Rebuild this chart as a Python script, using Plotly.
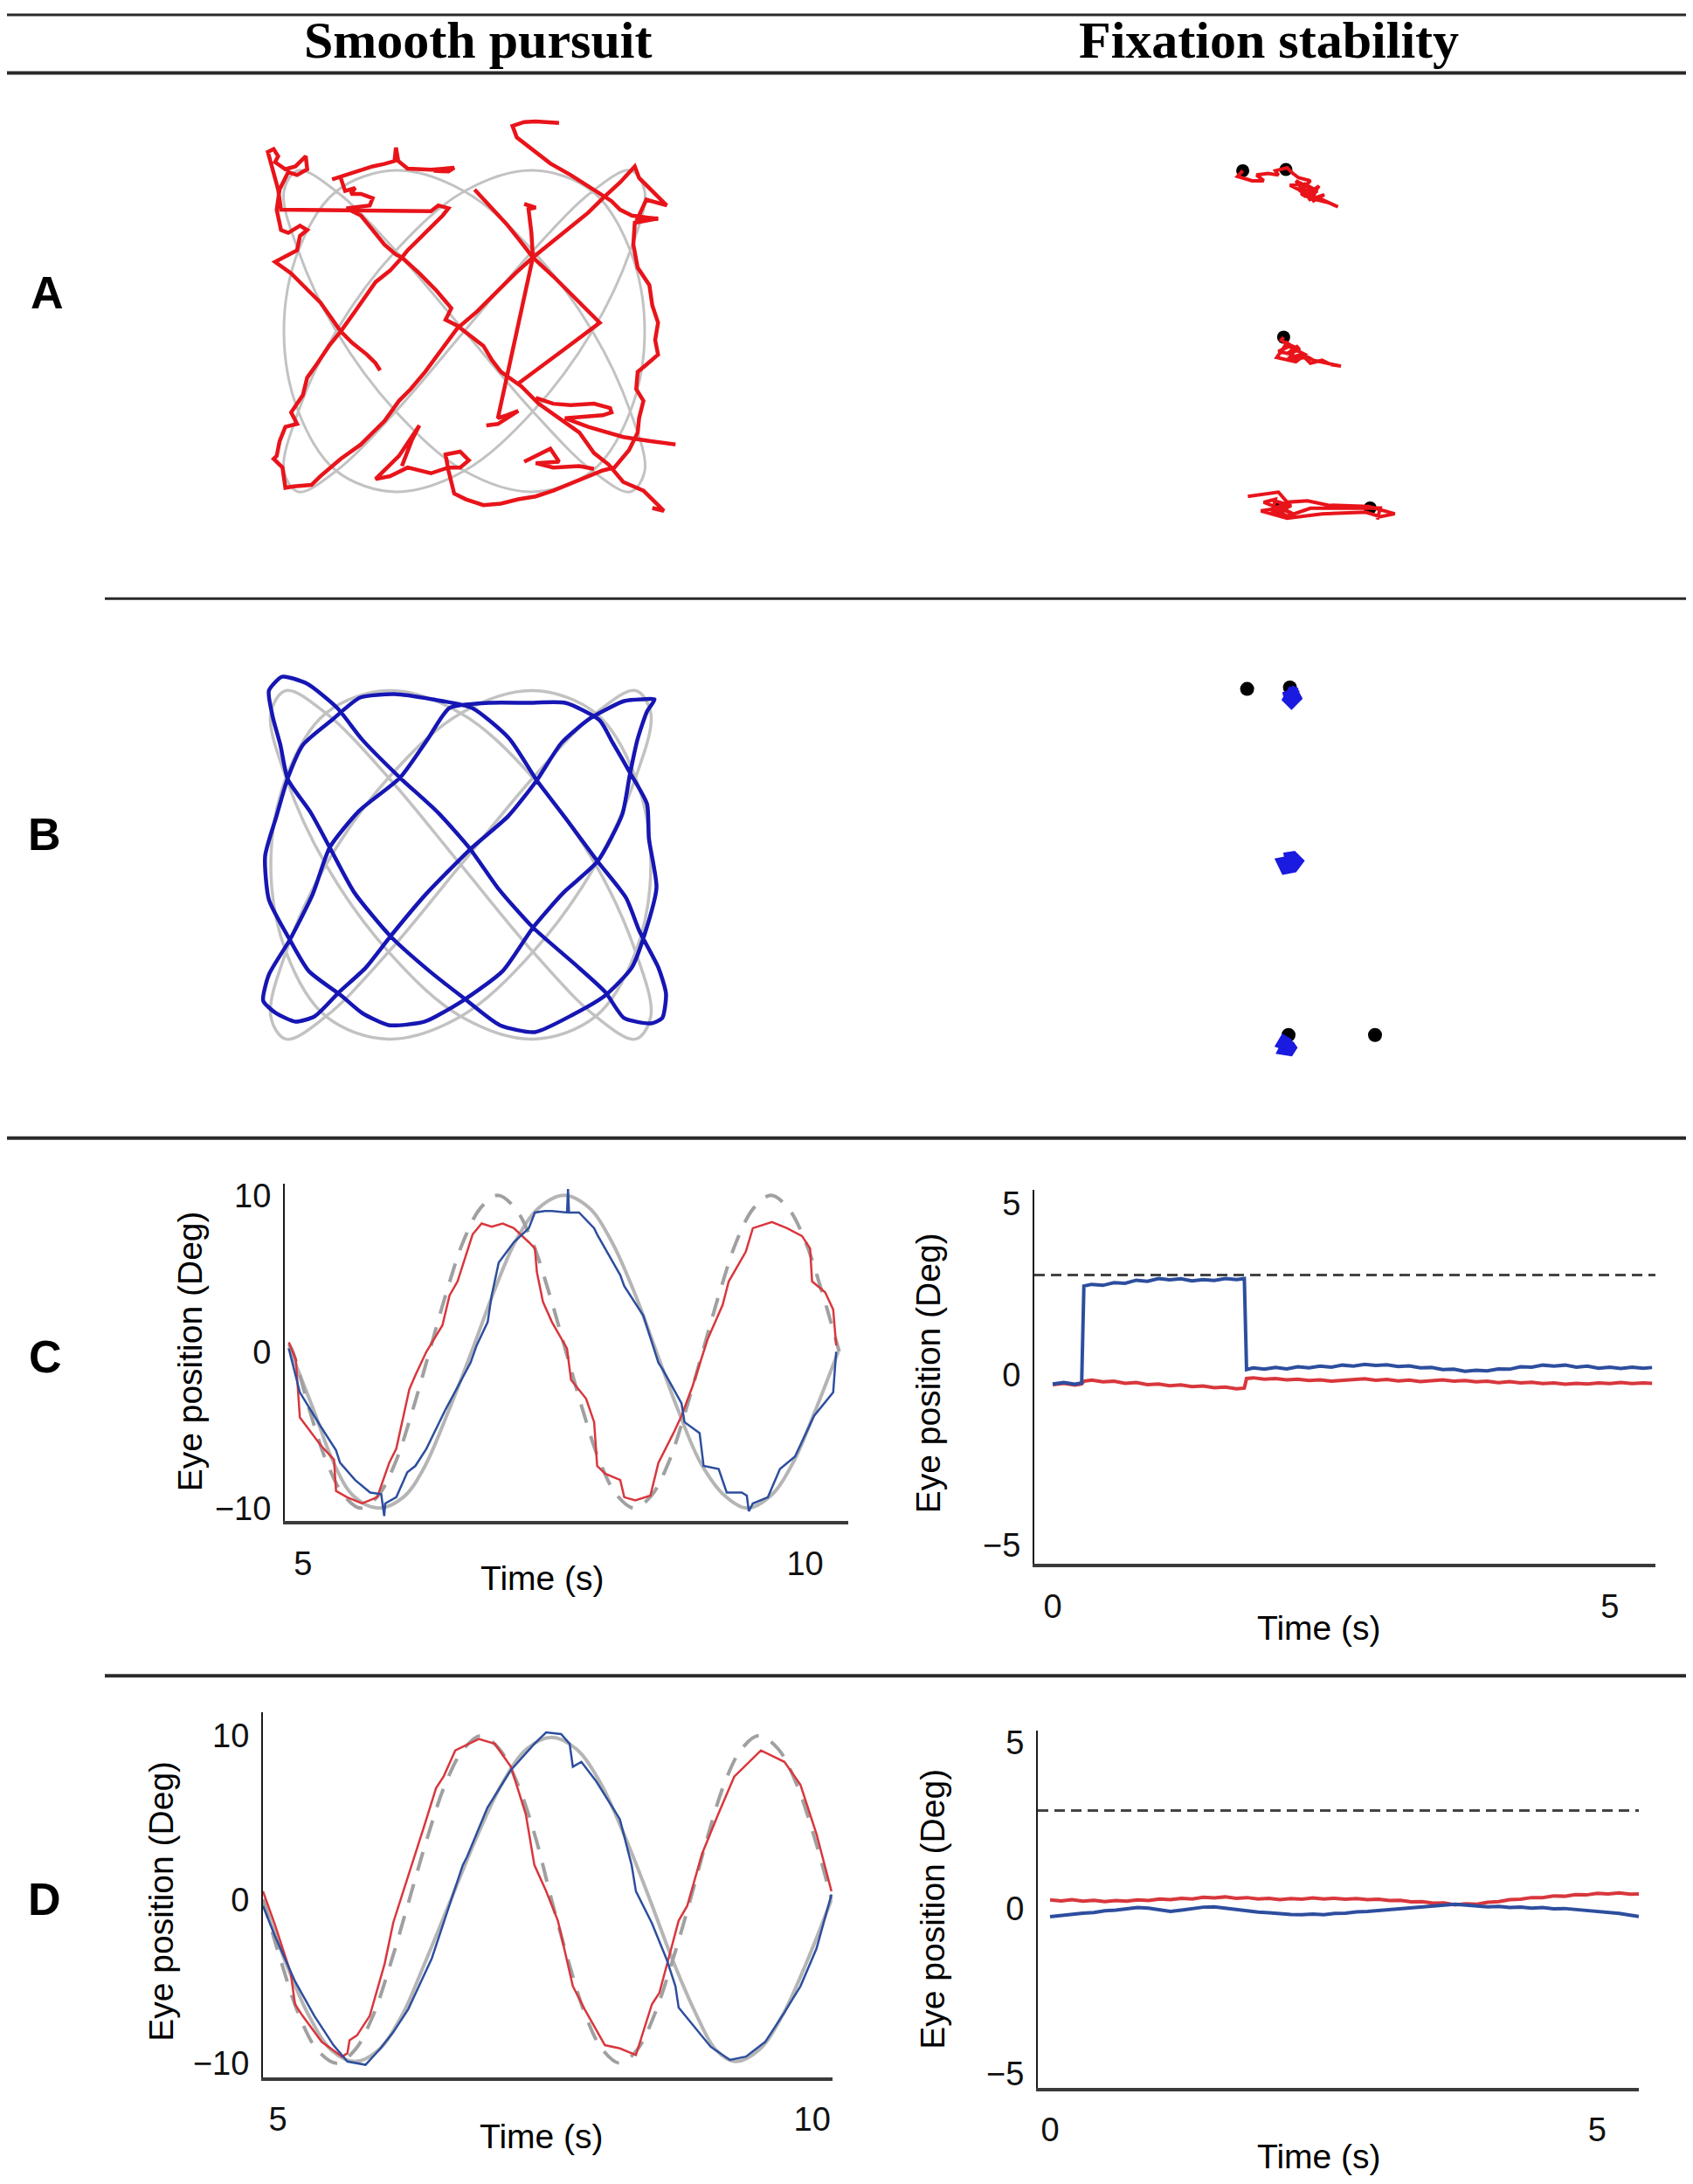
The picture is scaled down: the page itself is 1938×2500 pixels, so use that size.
import plotly.graph_objects as go

# page is 1938 x 2500; the html body keeps an 8 px margin, so the figure is a bit smaller
PAGE_W, PAGE_H = 1938, 2500
OFF = 8
W, H = PAGE_W - 2 * OFF, PAGE_H - 2 * OFF

# ---------------- data ----------------
# Lissajous target path (deg) shown in grey in panels A and B
target_x = [0, 3.8, 7.1, 9.2, 10, 9.2, 7.1, 3.8, 0, -3.8, -7.1, -9.2, -10, -9.2, -7.1, -3.8,
            0, 3.8, 7.1, 9.2, 10, 9.2, 7.1, 3.8, 0, -3.8, -7.1, -9.2, -10, -9.2, -7.1, -3.8,
            0, 3.8, 7.1, 9.2, 10, 9.2, 7.1, 3.8, 0, -3.8, -7.1, -9.2, -10, -9.2, -7.1, -3.8, 0]
target_y = [0, 5, 8.7, 10, 8.7, 5, 0, -5, -8.7, -10, -8.7, -5,
            0, 5, 8.7, 10, 8.7, 5, 0, -5, -8.7, -10, -8.7, -5,
            0, 5, 8.7, 10, 8.7, 5, 0, -5, -8.7, -10, -8.7, -5,
            0, 5, 8.7, 10, 8.7, 5, 0, -5, -8.7, -10, -8.7, -5, 0]

# A: smooth pursuit eye trace (red), None = break between pieces
red_a_x = [-4.67, -4.92, -5.40, -6.21, -6.85, -7.50, -7.98, -8.63, -9.60, -10.49,
           -9.92, -9.27, -9.11, -8.71, -9.11, -9.76, -10.16, -10.40, -10.24, -9.76,
           -9.27, -8.71, -8.79, -9.36, -9.92, -10.49, -10.32, -10.57, -10.89, -10.65,
           -10.32, -10.16, -1.85, -1.44, -0.88, -1.20, -2.17, -3.14, -3.46, -4.11,
           -4.92, -5.40, -6.05, -6.85, -7.50, -8.14, -8.71, -8.95, -9.60, -9.27,
           -9.92, -10.24, -10.40, -10.57, -10.08, -9.92, -9.44, -8.47, -7.98, -6.85,
           -5.73, -5.08, -4.43, -3.62, -2.98, -2.17, -1.20, -0.40, 0.73, 1.70,
           2.83, 3.80, 4.77, 5.58, 6.87, 7.68, 8.64, 9.45, 9.69, 11.22,
           10.09, 9.61, 10.74, 9.45, 9.37, 9.61, 10.26, 10.42, 10.74, 10.58,
           10.74, 10.09, 9.61, 9.53, 9.93, 9.69, 9.61, 9.13, 8.32, 7.68,
           6.87, 5.90, 4.93, 3.96, 2.99, 2.03, 1.06, 0.09, -0.56, -0.88,
           -1.04, -0.23, 0.25, -0.23, -0.88, -1.85, -3.14, -4.11, -4.92, -3.62,
           -2.49, -2.90, -3.46, None,
           -7.33, -6.85, -6.05, -5.08, -4.43, -3.87, -3.79, -3.66, -3.14, -1.85, -0.56, -0.88, -1.69, None,
           -6.85, -6.61, -6.05, -6.29, -5.73, -5.08, -5.24, -6.05, -6.53, -5.73,
           -5.08, -4.43, -3.79, -3.46, -2.49, -1.53, -0.72, -1.04, -0.40, 0.41,
           1.06, 1.54, 2.03, 3.16, 4.12, 5.25, 6.38, 7.19, 8.00, 8.81, 9.93, 10.74, 11.06, 10.42, None,
           0.57, 1.54, 2.35, 2.99, 3.80, 4.93, 5.90, 6.87, 7.51, 5.58, 3.96, 2.99, None,
           3.32, 3.96, 3.56, 3.72, 3.80, 2.83, 1.86, 2.35, 2.99, 1.86, 1.22, None,
           5.25, 4.61, 3.96, 3.32, 2.67, 2.91, 3.80, 4.77, 5.90, 7.19, 8.16, 8.64, 9.29, 10.74, None,
           3.96, 4.93, 5.90, 7.19, 8.08, 8.16, 7.68, 6.38, 5.58, 6.87, 8.81, 10.42, 11.71, None,
           3.32, 4.77, 5.25, 3.96, 4.93, 6.38, 7.19]
red_a_y = [-2.45, -2.00, -1.46, -0.74, -0.02, 1.06, 1.78, 2.50, 3.59, 4.31,
           4.67, 5.03, 5.93, 6.29, 6.56, 6.11, 6.29, 7.55, 8.81, 9.89,
           9.71, 10.07, 10.88, 10.25, 10.07, 10.52, 10.88, 11.33, 11.15, 10.07,
           8.81, 7.55, 7.46, 7.82, 7.64, 7.19, 6.11, 5.03, 4.58, 3.77,
           3.05, 2.32, 1.24, -0.02, -0.92, -2.00, -2.90, -3.98, -5.06, -5.78,
           -5.96, -6.86, -7.77, -7.95, -8.49, -9.75, -9.66, -9.57, -9.03, -7.95,
           -7.05, -6.32, -5.60, -4.34, -3.62, -2.54, -1.10, 0.16, 1.24, 2.32,
           3.59, 4.58, 5.48, 6.20, 7.37, 8.27, 9.26, 10.25, 9.53, 7.82,
           8.18, 7.01, 7.01, 6.74, 5.39, 3.95, 2.86, 1.60, 0.52, -0.56,
           -1.46, -2.09, -2.54, -3.62, -4.34, -5.42, -6.32, -7.41, -8.49, -8.67,
           -9.03, -9.48, -9.93, -10.29, -10.47, -10.74, -10.83, -10.47, -10.11, -8.67,
           -7.68, -7.50, -8.04, -8.49, -8.49, -8.85, -8.49, -9.03, -9.21, -7.77,
           -5.87, -6.77, -8.40, None,
           9.44, 9.62, 9.86, 10.25, 10.40, 10.58, 11.42, 10.58, 10.11, 10.04, 10.16, 9.93, 9.98, None,
           9.53, 8.72, 8.90, 8.54, 8.54, 8.27, 7.82, 7.73, 7.64, 7.19,
           6.29, 5.39, 4.76, 4.58, 3.59, 2.50, 1.42, 0.70, 0.34, -0.38,
           -0.92, -1.82, -2.54, -3.44, -4.52, -5.42, -6.32, -7.59, -8.31, -9.39, -9.93, -10.83, -11.19, -11.01, None,
           8.81, 7.64, 6.65, 5.75, 4.58, 3.41, 2.32, 1.24, 0.52, -1.10, -2.45, -3.26, None,
           7.91, 7.69, 7.59, 6.11, 4.58, -0.38, -5.42, -5.24, -4.97, -5.78, -5.87, None,
           12.95, 13.01, 13.05, 13.01, 12.77, 12.05, 11.24, 10.43, 9.71, 8.81, 8.09, 7.55, 7.19, 6.97, None,
           -4.16, -4.52, -4.61, -4.52, -4.79, -5.06, -5.24, -5.33, -5.42, -5.96, -6.59, -6.86, -7.05, None,
           -8.13, -7.32, -8.13, -8.22, -8.49, -8.40, -8.58]

# B: smooth pursuit eye trace (blue)
blue_b_x = [0.5, 2.5, 4.0, 5.3, 6.8, 8.6, 9.6, 10.2, 9.8, 9.3, 8.9, 8.5, 7.2, 5.4, 3.8, 2.2,
            0.1, -1.9, -3.8, -5.2, -6.3, -8.0, -9.0, -10.1, -10.3, -9.7, -9.1, -8.3, -6.8, -5.3, -3.5, -1.5,
            0.6, 2.55, 4.0, 5.5, 7.2, 8.7, 9.4, 10.4, 10.8, 10.6, 10.0, 8.6, 7.6, 6.0, 3.8, 2.0,
            0.5, -1.2, -3.2, -5.2, -6.5, -8.1, -9.4, -10.1, -9.9, -9.5, -9.1, -7.9, -6.9, -5.6, -3.7, -1.65,
            0.1, 2.05, 3.9, 5.9, 7.6, 9.0, 9.7, 10.3, 9.9, 9.8, 8.9, 8.0, 7.3, 5.5, 3.5, 1.5,
            -0.6, -1.75, -3.2, -5.35, -6.9, -7.8, -9.0, -10.1, -10.4, -9.75, -8.7, -7.7, -6.4, -5.0, -3.7, -1.85,
            0.5]
blue_b_y = [0.9, 2.8, 4.85, 7.0, 8.4, 9.4, 9.5, 9.5, 8.8, 7.2, 5.2, 2.9, 0.2, -1.6, -3.6, -6.1,
            -7.8, -9.0, -9.2, -8.5, -7.5, -6.1, -4.3, -2.0, 0.5, 2.8, 5.0, 6.9, 8.3, 9.6, 9.8, 9.5,
            9.0, 7.25, 4.85, 2.7, 0.2, -1.9, -3.8, -5.9, -7.4, -8.8, -9.1, -8.8, -7.3, -5.7, -3.6, -1.4,
            0.9, 3.0, 5.0, 7.2, 9.0, 10.4, 10.8, 10.0, 8.5, 6.9, 4.9, 3.0, 1.0, -1.6, -4.1, -6.1,
            -7.6, -9.2, -9.6, -8.6, -7.5, -5.9, -3.9, -1.3, 1.5, 3.5, 5.3, 7.0, 8.3, 9.3, 9.3, 9.3,
            9.0, 7.2, 5.0, 3.1, 1.0, -1.7, -4.3, -6.3, -7.8, -8.5, -9.0, -8.7, -7.3, -5.9, -4.1, -1.7,
            0.9]

# fixation targets (black) and eye position clusters
dots_a_x = [-2.37, 0.1, -0.03, -0.3, 4.92]
dots_a_y = [9.68, 9.75, 0.1, -9.75, -9.73]
fix_red_x = [-2.37, -2.67, -1.83, -1.17, -1.58, -0.92, -0.33, -0.5, 0.17, 0.5, 0.83, 1.5, 1.17, 1.0,
             1.5, 1.83, 2.5, 3.08, 2.17, 1.33, 0.83, 0.33, 1.0, 1.5, 0.67, 1.2, 1.8, 1.4, 0.9,
             1.2, 1.9, 1.1, 2.0, 1.4, 2.3, 1.6, None,
             -0.03, -0.17, 0.33, -0.33, 0.5, 0.17, 1.17, 1.5, 2.17, 2.67, 3.25, 2.5, 1.67, 0.83, 0.17,
             -0.42, 0.67, 1.2, 0.4, 0.2, 0.9, 0.1, 0.8, 0.3, 1.0, None,
             -2.08, -0.33, 0.17, 1.33, 2.5, 4.83, 6.33, 5.5, 4.67, 2.17, 0.17, -1.33, -0.17, 0.5,
             -1.17, -0.5, -0.67, 0.3, -0.6, 0.4, -0.4, 0.3, -0.7, 0.2, 1.5, 5.5, 5.33]
fix_red_y = [9.68, 9.35, 9.1, 9.1, 9.43, 9.52, 9.43, 9.68, 9.85, 9.52, 9.27, 9.1, 8.77, 8.27,
             8.43, 8.02, 7.85, 7.6, 8.02, 8.18, 8.6, 8.85, 8.93, 8.68, 9.1, 8.4, 8.3, 8.6, 8.5,
             8.9, 8.5, 8.2, 8.8, 8.0, 8.3, 7.9, None,
             0.1, -0.07, -0.4, -0.73, -0.9, -1.23, -1.07, -1.4, -1.23, -1.48, -1.57, -1.4, -1.23, -0.73, -0.23,
             -1.07, -1.32, -0.9, -0.5, -0.3, -0.6, -0.9, -0.4, -1.1, -0.9, None,
             -9.07, -8.82, -9.4, -9.32, -9.57, -9.65, -10.07, -10.23, -9.98, -10.07, -10.32, -9.9, -9.73, -10.07,
             -9.4, -9.23, -10.07, -9.6, -9.3, -9.6, -10.0, -9.4, -9.8, -10.2, -9.75, -9.73, -10.4]

dots_b_x = [-2.12, 0.33, 0.33, 0.25, 5.2]
dots_b_y = [10.0, 10.08, 0.08, -9.92, -9.92]
fix_blue_x = [0.33, 0.67, 0.0, 0.5, 0.83, 0.42, 0.25, 0.58, 0.45, None,
              0.0, 0.5, 0.75, 0.5, 0.08, -0.08, 0.33, 0.58, 0.2, None,
              0.17, -0.08, 0.33, 0.5, 0.0, 0.25]
fix_blue_y = [9.92, 9.75, 9.5, 9.58, 9.67, 9.25, 9.42, 10.0, 9.6, None,
              0.25, 0.33, 0.08, -0.25, -0.33, 0.0, 0.08, -0.08, 0.1, None,
              -10.0, -10.42, -10.58, -10.83, -10.75, -10.25]

# C left: pursuit time series (s, deg)
c_red_t = [4.86, 4.93, 4.97, 5.06, 5.18, 5.31, 5.33, 5.44, 5.59, 5.74, 5.80, 5.86, 5.93, 6.06, 6.12,
           6.23, 6.39, 6.46, 6.54, 6.69, 6.78, 6.88, 6.99, 7.10, 7.25, 7.31, 7.33, 7.39, 7.48, 7.63,
           7.67, 7.82, 7.90, 7.93, 8.01, 8.16, 8.20, 8.31, 8.46, 8.54, 8.69, 8.77, 8.88, 8.99, 9.03,
           9.18, 9.24, 9.33, 9.41, 9.48, 9.67, 9.82, 9.97, 10.05, 10.07, 10.20, 10.28, 10.31]
c_red = [0.6, -0.5, -4.2, -5.0, -6.0, -6.9, -8.9, -9.3, -9.7, -9.3, -8.2, -7.1, -6.2, -2.4, -1.5,
         0.0, 1.7, 3.6, 4.5, 7.5, 8.2, 8.0, 8.2, 7.9, 7.0, 6.6, 5.1, 3.2, 1.9, 0.2,
         -1.8, -3.0, -4.5, -7.3, -7.8, -8.2, -9.3, -9.5, -9.2, -7.1, -5.2, -4.1, -2.2, 0.0, 0.8,
         3.0, 4.5, 5.5, 6.4, 7.9, 8.3, 7.9, 7.4, 6.6, 4.5, 3.8, 2.7, 0.4]
c_blue_t = [4.86, 4.97, 5.18, 5.33, 5.37, 5.52, 5.67, 5.78, 5.81, 5.82, 5.93, 6.04, 6.12, 6.23, 6.42,
            6.58, 6.67, 6.73, 6.84, 6.88, 6.90, 6.95, 7.10, 7.25, 7.31, 7.41, 7.48, 7.63, 7.64, 7.65,
            7.75, 7.90, 7.93, 8.01, 8.16, 8.20, 8.39, 8.54, 8.58, 8.77, 8.80, 8.95, 8.99, 9.14, 9.22,
            9.37, 9.42, 9.44, 9.48, 9.63, 9.75, 9.90, 10.09, 10.28, 10.31]
c_blue = [0.2, -2.6, -4.8, -6.3, -7.1, -8.2, -9.0, -9.1, -10.5, -9.7, -9.3, -7.7, -7.3, -6.2, -3.7,
          -1.8, -0.7, 0.4, 1.9, 3.6, 4.2, 5.7, 7.0, 7.9, 8.9, 9.0, 9.0, 8.9, 10.4, 8.9,
          8.9, 7.9, 7.5, 6.6, 4.9, 4.2, 2.3, -0.7, -1.1, -3.3, -4.5, -5.2, -7.3, -7.5, -9.0,
          -9.0, -9.2, -10.2, -9.7, -9.3, -7.5, -6.7, -4.1, -2.6, 0.0]
c_tgt_dash_t = [4.86, 4.90, 5.07, 5.24, 5.41, 5.58, 5.75, 5.92, 6.09, 6.26, 6.43, 6.60, 6.77, 6.94,
                7.11, 7.28, 7.45, 7.62, 7.79, 7.96, 8.13, 8.30, 8.47, 8.64, 8.81, 8.98, 9.15, 9.32,
                9.49, 9.66, 9.83, 10.00, 10.17, 10.34]
c_tgt_dash = [0.5, 0, -3.8, -7.1, -9.2, -10, -9.2, -7.1, -3.8, 0, 3.8, 7.1, 9.2, 10,
              9.2, 7.1, 3.8, 0, -3.8, -7.1, -9.2, -10, -9.2, -7.1, -3.8, 0, 3.8, 7.1,
              9.2, 10, 9.2, 7.1, 3.8, 0]
c_tgt_solid_t = [4.86, 5.10, 5.30, 5.50, 5.75, 6.00, 6.20, 6.45, 6.68, 6.90, 7.12, 7.35, 7.60,
                 7.85, 8.07, 8.30, 8.52, 8.74, 8.96, 9.20, 9.42, 9.66, 9.88, 10.10, 10.33]
c_tgt_solid = [0.3, -3.6, -7.0, -9.2, -10, -9.3, -7.5, -3.8, 0, 3.8, 7.1, 9.2, 10,
               9.2, 7.1, 3.8, 0, -3.8, -7.1, -9.2, -10, -9.2, -7.1, -3.8, 0]

# C right: fixation time series
cf_t = [0, 0.1, 0.2, 0.26, 0.28, 0.35, 0.45, 0.55, 0.65, 0.75, 0.85, 0.95, 1.05, 1.15, 1.25, 1.35,
        1.45, 1.55, 1.65, 1.72, 1.74, 1.8, 1.9, 2.0, 2.1, 2.2, 2.3, 2.4, 2.5, 2.6, 2.7, 2.8, 2.9,
        3.0, 3.1, 3.2, 3.3, 3.4, 3.5, 3.6, 3.7, 3.8, 3.9, 4.0, 4.1, 4.2, 4.3, 4.4, 4.5, 4.6, 4.7,
        4.8, 4.9, 5.0, 5.1, 5.2, 5.3, 5.38]
cf_blue = [-0.28, -0.24, -0.29, -0.25, 2.58, 2.63, 2.6, 2.68, 2.66, 2.75, 2.72, 2.8, 2.76, 2.79,
           2.73, 2.77, 2.74, 2.8, 2.77, 2.8, 0.14, 0.19,
           0.15, 0.2, 0.16, 0.22, 0.19, 0.24, 0.21, 0.27, 0.24, 0.29, 0.26, 0.28, 0.23, 0.25, 0.19,
           0.2, 0.14, 0.15, 0.09, 0.12, 0.1, 0.16, 0.15, 0.22, 0.21, 0.27, 0.24, 0.27, 0.21, 0.24,
           0.18, 0.21, 0.17, 0.21, 0.18, 0.2]
cf_red = [-0.3, -0.26, -0.31, -0.28, -0.2, -0.17, -0.22, -0.2, -0.26, -0.24, -0.3, -0.28, -0.33,
          -0.31, -0.36, -0.34, -0.39, -0.37, -0.42, -0.4, -0.12, -0.1,
          -0.14, -0.12, -0.16, -0.14, -0.18, -0.16, -0.2, -0.17, -0.15, -0.13, -0.17, -0.15, -0.19,
          -0.17, -0.21, -0.18, -0.16, -0.2, -0.18, -0.22, -0.2, -0.24, -0.21, -0.25, -0.23, -0.27,
          -0.25, -0.29, -0.26, -0.28, -0.25, -0.27, -0.24, -0.27, -0.25, -0.26]
cf_target = 2.9

# D left: pursuit time series
d_red_t = [4.86, 4.97, 5.12, 5.16, 5.23, 5.41, 5.60, 5.65, 5.67, 5.74, 5.86, 6.00, 6.08, 6.22, 6.37,
           6.48, 6.55, 6.66, 6.88, 7.03, 7.18, 7.32, 7.40, 7.51, 7.62, 7.76, 7.87, 8.06, 8.20, 8.35,
           8.50, 8.57, 8.75, 8.83, 8.97, 9.12, 9.27, 9.52, 9.74, 9.89, 10.04, 10.18]
d_red = [0.5, -1.5, -4.5, -6.4, -7.1, -8.7, -9.6, -9.4, -8.6, -8.3, -7.1, -3.9, -1.4, 1.4, 4.5,
         6.8, 7.5, 9.1, 9.8, 9.5, 8.1, 5.2, 2.1, 0.5, -1.3, -5.3, -6.7, -8.9, -9.1, -9.5,
         -6.4, -5.7, -1.3, -0.4, 2.8, 5.2, 7.5, 9.1, 8.4, 7.0, 4.0, 0.5]
d_blue_t = [4.86, 4.97, 5.16, 5.34, 5.52, 5.65, 5.82, 5.96, 6.08, 6.22, 6.44, 6.59, 6.73, 6.77, 6.96,
            7.18, 7.40, 7.51, 7.65, 7.73, 7.76, 7.84, 7.98, 8.20, 8.31, 8.35, 8.50, 8.64, 8.72, 8.75,
            8.90, 9.05, 9.23, 9.38, 9.56, 9.74, 9.89, 10.04, 10.18]
d_blue = [-0.4, -2.2, -5.0, -7.1, -8.9, -9.9, -10.1, -9.1, -8.1, -6.7, -3.6, -0.7, 2.1, 2.6, 5.6,
          7.9, 9.5, 10.2, 10.1, 9.5, 8.1, 8.4, 7.2, 4.9, 2.1, 0.5, -1.45, -3.7, -5.3, -6.6,
          -7.8, -9.0, -9.8, -9.6, -8.7, -6.9, -5.3, -3.0, 0.3]
d_tgt_dash_t = [4.86, 5.03, 5.20, 5.37, 5.55, 5.72, 5.89, 6.06, 6.23, 6.40, 6.57, 6.74, 6.90, 7.07,
                7.24, 7.41, 7.56, 7.72, 7.88, 8.04, 8.20, 8.36, 8.52, 8.69, 8.86, 9.02, 9.18, 9.34,
                9.50, 9.68, 9.85, 10.02, 10.18]
d_tgt_dash = [0, -3.8, -7.1, -9.2, -10, -9.2, -7.1, -3.8, 0, 3.8, 7.1, 9.2, 10, 9.2,
              7.1, 3.8, 0, -3.8, -7.1, -9.2, -10, -9.2, -7.1, -3.8, 0, 3.8, 7.1, 9.2,
              10, 9.2, 7.1, 3.8, 0]
d_tgt_solid_t = [4.86, 5.07, 5.29, 5.50, 5.72, 5.94, 6.16, 6.38, 6.62, 6.86, 7.10, 7.33, 7.56,
                 7.79, 8.02, 8.25, 8.48, 8.70, 8.92, 9.10, 9.28, 9.50, 9.72, 9.95, 10.18]
d_tgt_solid = [0, -3.8, -7.1, -9.2, -9.9, -9.2, -7.1, -3.8, 0, 3.8, 7.1, 9.2, 9.9,
               9.2, 7.1, 3.8, 0, -3.8, -7.1, -9.2, -9.9, -9.2, -7.1, -3.8, 0]

# D right: fixation time series
df_t = [0.0, 0.1, 0.2, 0.3, 0.4, 0.5, 0.6, 0.7, 0.8, 0.9, 1.0, 1.1, 1.2, 1.3, 1.4, 1.5, 1.6, 1.7,
        1.8, 1.9, 2.0, 2.1, 2.2, 2.3, 2.4, 2.5, 2.6, 2.7, 2.8, 2.9, 3.0, 3.1, 3.2, 3.3, 3.4, 3.5,
        3.6, 3.7, 3.8, 3.9, 4.0, 4.1, 4.2, 4.3, 4.4, 4.5, 4.6, 4.7, 4.8, 4.9, 5.0, 5.1, 5.2, 5.3, 5.38]
df_red = [0.25, 0.22, 0.26, 0.21, 0.24, 0.2, 0.23, 0.21, 0.25, 0.23,
          0.28, 0.26, 0.3, 0.28, 0.33, 0.31, 0.34, 0.3, 0.32, 0.28,
          0.3, 0.26, 0.29, 0.27, 0.31, 0.28, 0.3, 0.27, 0.29, 0.26,
          0.27, 0.23, 0.24, 0.19, 0.2, 0.15, 0.16, 0.1, 0.13, 0.12,
          0.18, 0.2, 0.26, 0.27, 0.32, 0.32, 0.37, 0.36, 0.41, 0.4,
          0.45, 0.43, 0.46, 0.42, 0.43]
df_blue = [-0.26, -0.22, -0.2, -0.15, -0.13, -0.08, -0.06, -0.02, 0.02, 0.0,
           -0.06, -0.1, -0.06, -0.02, 0.03, 0.04, 0.0, -0.05, -0.08, -0.12,
           -0.14, -0.17, -0.19, -0.2, -0.18, -0.2, -0.16, -0.15, -0.11, -0.1,
           -0.07, -0.06, -0.02, 0.0, 0.04, 0.08, 0.1, 0.12, 0.09, 0.07,
           0.04, 0.05, 0.02, 0.03, 0.0, 0.02, -0.02, -0.01, -0.04, -0.05,
           -0.09, -0.12, -0.16, -0.21, -0.25]
df_target = 2.95

# ---------------- styling ----------------
SANS = "Liberation Sans, Arial, Helvetica, sans-serif"
SERIF = "Liberation Serif, Times New Roman, serif"
RED2D = "#e8141a"
BLUE2D = "#1616b4"
GREY2D = "#c2c2c2"
RED_TS = "#d8373d"
BLUE_TS = "#2d4e9e"


def dom_x(a, b):
    return [(a - OFF) / W, (b - OFF) / W]


def dom_y(top, bottom):
    return [1 - (bottom - OFF) / H, 1 - (top - OFF) / H]


def hidden(domain, rng):
    return dict(domain=domain, range=rng, visible=False, fixedrange=True)


def x_axis(domain, rng, vals, anchor):
    return dict(domain=domain, range=rng, anchor=anchor, showline=True, linewidth=4,
                linecolor="#3a3a3a", showgrid=False, zeroline=False, ticks="",
                tickvals=vals, ticktext=[str(v) for v in vals], ticklabelstandoff=12,
                tickfont=dict(family=SANS, size=38, color="#111"))


def y_axis(domain, rng, vals, anchor):
    return dict(domain=domain, range=rng, anchor=anchor, showline=True, linewidth=2,
                linecolor="#1a1a1a", showgrid=False, zeroline=False, ticks="",
                tickvals=vals, ticktext=[str(v).replace("-", "\u2212") for v in vals],
                ticklabelstandoff=6, tickfont=dict(family=SANS, size=38, color="#111"))


fig = go.Figure()

# --- A ---
fig.add_trace(go.Scatter(x=target_x, y=target_y, mode="lines", xaxis="x", yaxis="y",
                         line=dict(color=GREY2D, width=3, shape="spline")))
fig.add_trace(go.Scatter(x=red_a_x, y=red_a_y, mode="lines", xaxis="x", yaxis="y",
                         line=dict(color=RED2D, width=4.5)))
fig.add_trace(go.Scatter(x=dots_a_x, y=dots_a_y, mode="markers", xaxis="x2", yaxis="y2",
                         marker=dict(color="black", size=15)))
fig.add_trace(go.Scatter(x=fix_red_x, y=fix_red_y, mode="lines", xaxis="x2", yaxis="y2",
                         line=dict(color=RED2D, width=4)))

# --- B ---
fig.add_trace(go.Scatter(x=target_x, y=target_y, mode="lines", xaxis="x3", yaxis="y3",
                         line=dict(color=GREY2D, width=3.5, shape="spline")))
fig.add_trace(go.Scatter(x=blue_b_x, y=blue_b_y, mode="lines", xaxis="x3", yaxis="y3",
                         line=dict(color=BLUE2D, width=4.5, shape="spline", smoothing=0.6)))
fig.add_trace(go.Scatter(x=dots_b_x, y=dots_b_y, mode="markers", xaxis="x4", yaxis="y4",
                         marker=dict(color="black", size=16)))
fig.add_trace(go.Scatter(x=fix_blue_x, y=fix_blue_y, mode="lines", xaxis="x4", yaxis="y4",
                         line=dict(color="#1a1ae0", width=13)))

# --- C ---
fig.add_trace(go.Scatter(x=c_tgt_solid_t, y=c_tgt_solid, mode="lines", xaxis="x5", yaxis="y5",
                         line=dict(color="#b5b5b5", width=4, shape="spline")))
fig.add_trace(go.Scatter(x=c_tgt_dash_t, y=c_tgt_dash, mode="lines", xaxis="x5", yaxis="y5",
                         line=dict(color="#a0a0a0", width=4, shape="spline", dash="22px,16px")))
fig.add_trace(go.Scatter(x=c_red_t, y=c_red, mode="lines", xaxis="x5", yaxis="y5",
                         line=dict(color=RED_TS, width=2.5)))
fig.add_trace(go.Scatter(x=c_blue_t, y=c_blue, mode="lines", xaxis="x5", yaxis="y5",
                         line=dict(color=BLUE_TS, width=2.5)))

fig.add_trace(go.Scatter(x=[-0.165, 5.41], y=[cf_target, cf_target], mode="lines",
                         xaxis="x6", yaxis="y6",
                         line=dict(color="#444", width=3, dash="12px,7px")))
fig.add_trace(go.Scatter(x=cf_t, y=cf_red, mode="lines", xaxis="x6", yaxis="y6",
                         line=dict(color=RED_TS, width=4)))
fig.add_trace(go.Scatter(x=cf_t, y=cf_blue, mode="lines", xaxis="x6", yaxis="y6",
                         line=dict(color=BLUE_TS, width=4)))

# --- D ---
fig.add_trace(go.Scatter(x=d_tgt_solid_t, y=d_tgt_solid, mode="lines", xaxis="x7", yaxis="y7",
                         line=dict(color="#b5b5b5", width=4, shape="spline")))
fig.add_trace(go.Scatter(x=d_tgt_dash_t, y=d_tgt_dash, mode="lines", xaxis="x7", yaxis="y7",
                         line=dict(color="#a0a0a0", width=4, shape="spline", dash="22px,16px")))
fig.add_trace(go.Scatter(x=d_red_t, y=d_red, mode="lines", xaxis="x7", yaxis="y7",
                         line=dict(color=RED_TS, width=2.5)))
fig.add_trace(go.Scatter(x=d_blue_t, y=d_blue, mode="lines", xaxis="x7", yaxis="y7",
                         line=dict(color=BLUE_TS, width=2.5)))

fig.add_trace(go.Scatter(x=[-0.112, 5.38], y=[df_target, df_target], mode="lines",
                         xaxis="x8", yaxis="y8",
                         line=dict(color="#444", width=3, dash="12px,7px")))
fig.add_trace(go.Scatter(x=df_t, y=df_red, mode="lines", xaxis="x8", yaxis="y8",
                         line=dict(color=RED_TS, width=4)))
fig.add_trace(go.Scatter(x=df_t, y=df_blue, mode="lines", xaxis="x8", yaxis="y8",
                         line=dict(color=BLUE_TS, width=4)))

fig.update_layout(
    width=W, height=H, margin=dict(l=0, r=0, t=0, b=0),
    paper_bgcolor="white", plot_bgcolor="white", showlegend=False,
    xaxis=hidden(dom_x(290, 790), [-11.695, 12.518]),
    yaxis=hidden(dom_y(110, 610), [-12.81, 14.22]),
    xaxis2=hidden(dom_x(1300, 1700), [-8.5, 11.5]),
    yaxis2=hidden(dom_y(130, 630), [-12.4, 12.6]),
    xaxis3=hidden(dom_x(290, 790), [-10.92, 12.07]),
    yaxis3=hidden(dom_y(740, 1240), [-12.59, 12.34]),
    xaxis4=hidden(dom_x(1300, 1700), [-8.5, 11.5]),
    yaxis4=hidden(dom_y(730, 1240), [-12.75, 12.75]),
    xaxis5=x_axis(dom_x(326, 971), [4.82, 10.43], [5, 10], "y5"),
    yaxis5=y_axis(dom_y(1355, 1743), [-10.83, 10.72], [-10, 0, 10], "x5"),
    xaxis6=x_axis(dom_x(1184, 1895), [-0.165, 5.41], [0, 5], "y6"),
    yaxis6=y_axis(dom_y(1362, 1792), [-5.53, 5.38], [-5, 0, 5], "x6"),
    xaxis7=x_axis(dom_x(301, 953), [4.86, 10.19], [5, 10], "y7"),
    yaxis7=y_axis(dom_y(1963, 2383), [-10.85, 11.43], [-10, 0, 10], "x7"),
    xaxis8=x_axis(dom_x(1188, 1876), [-0.112, 5.38], [0, 5], "y8"),
    yaxis8=y_axis(dom_y(1984, 2395), [-5.42, 5.37], [-5, 0, 5], "x8"),
)

# separator rules of the table (page px)
rules = [(9, 0, 3), (76, 0, 4), (681, 120, 3), (1302, 0, 4), (1921, 120, 4)]
for y_px, x0_px, lw in rules:
    fig.add_shape(type="line", xref="paper", yref="paper", x0=max(0, (x0_px - OFF) / W), x1=1,
                  y0=1 - (y_px - OFF) / H, y1=1 - (y_px - OFF) / H,
                  line=dict(color="#2a2a2a", width=lw))


def note(text, x_px, y_px, size, family=SANS, angle=0):
    fig.add_annotation(text=text, xref="paper", yref="paper",
                       x=(x_px - OFF) / W, y=1 - (y_px - OFF) / H,
                       xanchor="center", yanchor="middle", showarrow=False, textangle=angle,
                       font=dict(family=family, size=size, color="black"))


note("<b>Smooth pursuit</b>", 547, 38, 60, SERIF)
note("<b>Fixation stability</b>", 1452, 38, 60, SERIF)
for lab, xx, yy in [("A", 54, 329), ("B", 51, 952), ("C", 52, 1554), ("D", 51, 2178)]:
    note("<b>" + lab + "</b>", xx, yy, 52)

for xx, yy in [(217, 1548), (1062, 1573), (185, 2181), (1068, 2190)]:
    note("Eye position (Deg)", xx, yy, 39, angle=-90)
for xx, yy in [(621, 1809), (1510, 1866), (620, 2451), (1510, 2474)]:
    note("Time (s)", xx, yy, 39)

fig.write_html("out.html")
